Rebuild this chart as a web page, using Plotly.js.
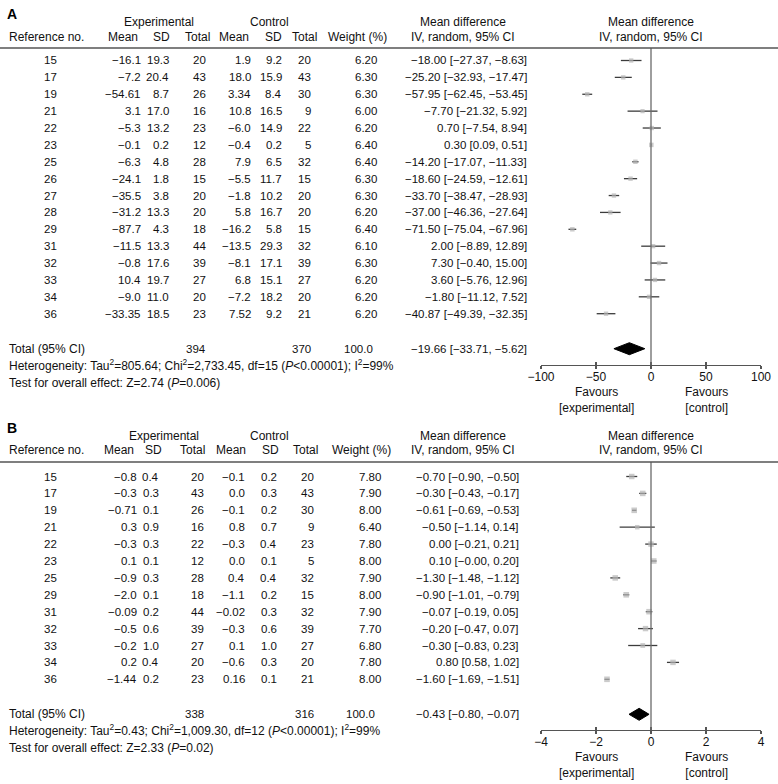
<!DOCTYPE html>
<html>
<head>
<meta charset="utf-8">
<script src="https://cdn.plot.ly/plotly-3.0.1.min.js"></script>
<style>html,body{margin:0;padding:0;background:#fff;}#chart{width:778px;height:784px;}</style>
</head>
<body>
<div id="chart"></div>
<script>
// ---------------- Panel A data ----------------
const refA = [15,17,19,21,22,23,25,26,27,28,29,31,32,33,34,36];
const expMeanA = [-16.1,-7.2,-54.61,3.1,-5.3,-0.1,-6.3,-24.1,-35.5,-31.2,-87.7,-11.5,-0.8,10.4,-9.0,-33.35];
const expSdA = [19.3,20.4,8.7,17.0,13.2,0.2,4.8,1.8,3.8,13.3,4.3,13.3,17.6,19.7,11.0,18.5];
const expNA = [20,43,26,16,23,12,28,15,20,20,18,44,39,27,20,23];
const ctlMeanA = [1.9,18.0,3.34,10.8,-6.0,-0.4,7.9,-5.5,-1.8,5.8,-16.2,-13.5,-8.1,6.8,-7.2,7.52];
const ctlSdA = [9.2,15.9,8.4,16.5,14.9,0.2,6.5,11.7,10.2,16.7,5.8,29.3,17.1,15.1,18.2,9.2];
const ctlNA = [20,43,30,9,22,5,32,15,20,20,15,32,39,27,20,21];
const weightA = [6.20,6.30,6.30,6.00,6.20,6.40,6.40,6.30,6.30,6.20,6.40,6.10,6.30,6.20,6.20,6.20];
const mdA = [-18.00,-25.20,-57.95,-7.70,0.70,0.30,-14.20,-18.60,-33.70,-37.00,-71.50,2.00,7.30,3.60,-1.80,-40.87];
const loA = [-27.37,-32.93,-62.45,-21.32,-7.54,0.09,-17.07,-24.59,-38.47,-46.36,-75.04,-8.89,-0.40,-5.76,-11.12,-49.39];
const hiA = [-8.63,-17.47,-53.45,5.92,8.94,0.51,-11.33,-12.61,-28.93,-27.64,-67.96,12.89,15.00,12.96,7.52,-32.35];
const totalA = {expN:394, ctlN:370, weight:100.0, md:-19.66, lo:-33.71, hi:-5.62};
const hetA = {tau2:805.64, chi2:2733.45, df:15, p:'<0.00001', i2:99, z:2.74, pz:'=0.006'};
const ticksA = [-100,-50,0,50,100];

// ---------------- Panel B data ----------------
const refB = [15,17,19,21,22,23,25,29,31,32,33,34,36];
const expMeanB = [-0.8,-0.3,-0.71,0.3,-0.3,0.1,-0.9,-2.0,-0.09,-0.5,-0.2,0.2,-1.44];
const expSdB = [0.4,0.3,0.1,0.9,0.3,0.1,0.3,0.1,0.2,0.6,1.0,0.4,0.2];
const expNB = [20,43,26,16,22,12,28,18,44,39,27,20,23];
const ctlMeanB = [-0.1,0.0,-0.1,0.8,-0.3,0.0,0.4,-1.1,-0.02,-0.3,0.1,-0.6,0.16];
const ctlSdB = [0.2,0.3,0.2,0.7,0.4,0.1,0.4,0.2,0.3,0.6,1.0,0.3,0.1];
const ctlNB = [20,43,30,9,23,5,32,15,32,39,27,20,21];
const weightB = [7.80,7.90,8.00,6.40,7.80,8.00,7.90,8.00,7.90,7.70,6.80,7.80,8.00];
const mdB = [-0.70,-0.30,-0.61,-0.50,0.00,0.10,-1.30,-0.90,-0.07,-0.20,-0.30,0.80,-1.60];
const loB = [-0.90,-0.43,-0.69,-1.14,-0.21,-0.00,-1.48,-1.01,-0.19,-0.47,-0.83,0.58,-1.69];
const hiB = [-0.50,-0.17,-0.53,0.14,0.21,0.20,-1.12,-0.79,0.05,0.07,0.23,1.02,-1.51];
const totalB = {expN:338, ctlN:316, weight:100.0, md:-0.43, lo:-0.80, hi:-0.07};
const hetB = {tau2:0.43, chi2:1009.30, df:12, p:'<0.00001', i2:99, z:2.33, pz:'=0.02'};
const ticksB = [-4,-2,0,2,4];

// ---------------- helpers ----------------
const W = 778, H = 784;
const MINUS = '\u2212';
const px = x => x / W;
const py = y => 1 - y / H;
function neg(v){ return v < 0 || Object.is(v, -0); }
function decs(v){ const s = String(Math.abs(v)); const i = s.indexOf('.'); return i < 0 ? 1 : Math.max(1, s.length - i - 1); }
function fm(v){ return (neg(v) ? MINUS : '') + Math.abs(v).toFixed(decs(v)); }
function f2(v){ return (neg(v) ? MINUS : '') + Math.abs(v).toFixed(2); }
function ci(m, l, h){ return f2(m) + ' [' + f2(l) + ', ' + f2(h) + ']'; }
function thous(v){ return v.toLocaleString('en-US', {minimumFractionDigits:2, maximumFractionDigits:2}); }

const FAM = '"Liberation Sans", Arial, Helvetica, sans-serif';
const FONT = {family:FAM, size:12, color:'#111'};
const NFONT = {family:FAM, size:11.5, color:'#111'};
const annotations = [];
function ann(text, x, y, xanchor, yref, extra){
  annotations.push(Object.assign({text:text, x:x, y:y, xref:'paper', yref:yref||'paper',
    xanchor:xanchor||'left', yanchor:'middle', showarrow:false, font:FONT, borderpad:0}, extra||{}));
}
function num(text, x, y, xanchor, yref){ ann(text, x, y, xanchor, yref, {font:NFONT}); }

// panel geometry (pixel positions)
const panels = [
  {key:'A', ref:refA, em:expMeanA, es:expSdA, en:expNA, cm:ctlMeanA, cs:ctlSdA, cn:ctlNA, w:weightA,
   md:mdA, lo:loA, hi:hiA, tot:totalA, het:hetA, ticks:ticksA, range:[-100,100],
   letterY:14, grpY:22, hdrY:37, lineY:48, row0:60.5, step:16.88, axisY:365, hetY:365, testY:383, favY:400,
   xa:'x', ya:'y', xaIn:'x3', yref:'y',
   col:{ref:50, em:142, es:170, en:207, cm:252, cs:283, cn:312, w:378, ci:528},
   hd:{em:139, es:171, en:211, cm:250, cs:283, cn:318, w:357, exp:159, ctl:269, ci:463, tw:374},
   markerScale:0.7},
  {key:'B', ref:refB, em:expMeanB, es:expSdB, en:expNB, cm:ctlMeanB, cs:ctlSdB, cn:ctlNB, w:weightB,
   md:mdB, lo:loB, hi:hiB, tot:totalB, het:hetB, ticks:ticksB, range:[-4,4],
   letterY:428, grpY:436, hdrY:450, lineY:462, row0:476.5, step:16.9, axisY:730, hetY:730, testY:748, favY:765,
   xa:'x2', ya:'y2', xaIn:'x4', yref:'y2',
   col:{ref:50, em:138, es:160, en:205, cm:246, cs:278, cn:315, w:382, ci:520},
   hd:{em:135, es:163, en:206, cm:247, cs:280, cn:319, w:361, exp:164, ctl:269, ci:463, tw:376},
   markerScale:0.7}
];

const traces = [];
const shapes = [];
const layout = {
  width: W, height: H, margin:{l:0,r:0,t:0,b:0}, paper_bgcolor:'#fff', plot_bgcolor:'rgba(0,0,0,0)',
  showlegend:false, font:FONT, annotations:annotations, shapes:shapes
};

const XDOM = [px(541), px(761)];

panels.forEach((p, pi) => {
  const n = p.ref.length;
  const rows = p.ref.map((_, i) => i);
  const totRow = (n - 1) + 35 / p.step;
  const yTop = (p.lineY - p.row0) / p.step;
  const yBot = (p.axisY - p.row0) / p.step;

  const axN = pi === 0 ? '' : '2';
  const axIn = pi === 0 ? '3' : '4';
  layout['xaxis' + axN] = {domain:XDOM, range:p.range, anchor:p.ya, showline:true, linecolor:'#555', linewidth:1.3,
    ticks:'outside', ticklen:3, tickwidth:1.3, tickcolor:'#555', tickvals:p.ticks, showgrid:false, zeroline:false,
    ticklabelstandoff:-3, tickfont:{family:FAM, size:12, color:'#111'}, fixedrange:true};
  layout['xaxis' + axIn] = {overlaying:p.xa, range:p.range, anchor:p.ya, showline:false,
    ticks:'inside', ticklen:3, tickwidth:1.3, tickcolor:'#555', tickvals:p.ticks, showticklabels:false,
    showgrid:false, zeroline:false, fixedrange:true};
  layout['yaxis' + axN] = {domain:[py(p.axisY), py(p.lineY)], range:[yBot, yTop], visible:false, fixedrange:true};

  // study estimates with CI
  traces.push({type:'scatter', mode:'markers', x:p.md, y:rows, xaxis:p.xa, yaxis:p.ya,
    marker:{symbol:'square', size:p.w.map(v => v * p.markerScale), color:'#b5b5b5', line:{width:0}},
    error_x:{type:'data', symmetric:false, array:p.md.map((m, i) => p.hi[i] - m),
      arrayminus:p.md.map((m, i) => m - p.lo[i]), color:'#3c3c3c', thickness:1.3, width:0},
    hoverinfo:'skip'});
  // overall diamond
  const h = 6 / p.step;
  traces.push({type:'scatter', mode:'lines', xaxis:p.xa, yaxis:p.ya,
    x:[p.tot.lo, p.tot.md, p.tot.hi, p.tot.md, p.tot.lo],
    y:[totRow, totRow - h, totRow, totRow + h, totRow],
    fill:'toself', fillcolor:'#000', line:{color:'#000', width:1}, hoverinfo:'skip'});
  // invisible trace on the overlay axis so its ticks are drawn
  traces.push({type:'scatter', mode:'markers', x:[0], y:[totRow], xaxis:p.xaIn, yaxis:p.ya,
    marker:{opacity:0}, hoverinfo:'skip'});

  // zero line
  shapes.push({type:'line', xref:p.xa, yref:p.ya + ' domain', x0:0, x1:0, y0:0, y1:1,
    line:{color:'#6a6a6a', width:1.3}});
  // header rule
  shapes.push({type:'line', xref:'paper', yref:'paper', x0:0, x1:1, y0:py(p.lineY), y1:py(p.lineY),
    line:{color:'#555', width:1.4}});

  // letter
  ann('<b>' + p.key + '</b>', px(6), py(p.letterY), 'left', 'paper', {font:{family:FAM, size:14, color:'#000'}});
  // group headers
  ann('Experimental', px(p.hd.exp), py(p.grpY), 'center');
  ann('Control', px(p.hd.ctl), py(p.grpY), 'center');
  ann('Mean difference', px(p.hd.ci), py(p.grpY), 'center');
  ann('Mean difference', px(651), py(p.grpY), 'center');
  ann('Reference no.', px(8), py(p.hdrY), 'left');
  ann('Mean', px(p.hd.em), py(p.hdrY), 'right');
  ann('SD', px(p.hd.es), py(p.hdrY), 'right');
  ann('Total', px(p.hd.en), py(p.hdrY), 'right');
  ann('Mean', px(p.hd.cm), py(p.hdrY), 'right');
  ann('SD', px(p.hd.cs), py(p.hdrY), 'right');
  ann('Total', px(p.hd.cn), py(p.hdrY), 'right');
  ann('Weight (%)', px(p.hd.w), py(p.hdrY), 'center');
  ann('IV, random, 95% CI', px(p.hd.ci), py(p.hdrY), 'center');
  ann('IV, random, 95% CI', px(651), py(p.hdrY), 'center');

  // rows
  rows.forEach(i => {
    num(String(p.ref[i]), px(p.col.ref), i, 'center', p.yref);
    num(fm(p.em[i]), px(p.col.em), i, 'right', p.yref);
    num(fm(p.es[i]), px(p.col.es), i, 'right', p.yref);
    num(String(p.en[i]), px(p.col.en), i, 'right', p.yref);
    num(fm(p.cm[i]), px(p.col.cm), i, 'right', p.yref);
    num(fm(p.cs[i]), px(p.col.cs), i, 'right', p.yref);
    num(String(p.cn[i]), px(p.col.cn), i, 'right', p.yref);
    num(p.w[i].toFixed(2), px(p.col.w), i, 'right', p.yref);
    num(ci(p.md[i], p.lo[i], p.hi[i]), px(p.col.ci), i, 'right', p.yref);
  });

  // totals
  ann('Total (95% CI)', px(8), totRow, 'left', p.yref);
  num(String(p.tot.expN), px(p.col.en), totRow, 'right', p.yref);
  num(String(p.tot.ctlN), px(p.col.cn), totRow, 'right', p.yref);
  num(p.tot.weight.toFixed(1), px(p.hd.tw), totRow, 'right', p.yref);
  num(ci(p.tot.md, p.tot.lo, p.tot.hi), px(p.col.ci), totRow, 'right', p.yref);

  ann('Heterogeneity: Tau<sup>2</sup>=' + p.het.tau2 + '; Chi<sup>2</sup>=' + thous(p.het.chi2) +
      ', df=' + p.het.df + ' (<i>P</i>' + p.het.p + '); I<sup>2</sup>=' + p.het.i2 + '%',
      px(8), py(p.hetY), 'left');
  ann('Test for overall effect: Z=' + p.het.z.toFixed(2) + ' (<i>P</i>' + p.het.pz + ')', px(8), py(p.testY), 'left');

  // favours labels
  annotations.push({text:'Favours<br>[experimental]', x:p.ticks[1], y:py(p.favY), xref:p.xa, yref:'paper',
    xanchor:'center', yanchor:'middle', showarrow:false, font:FONT, borderpad:0});
  annotations.push({text:'Favours<br>[control]', x:p.ticks[3], y:py(p.favY), xref:p.xa, yref:'paper',
    xanchor:'center', yanchor:'middle', showarrow:false, font:FONT, borderpad:0});
});

Plotly.newPlot('chart', traces, layout, {staticPlot:true, displayModeBar:false});
</script>
</body>
</html>
